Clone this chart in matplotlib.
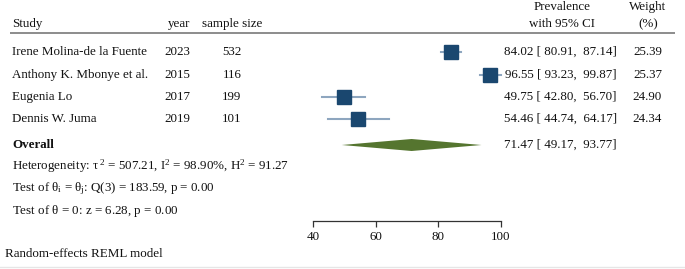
import matplotlib
matplotlib.use("Agg")
import matplotlib.pyplot as plt
import numpy as np

plt.rcParams['font.family'] = ['Liberation Serif', 'DejaVu Serif']
plt.rcParams['mathtext.fontset'] = 'custom'
plt.rcParams['mathtext.rm'] = 'Liberation Serif'
plt.rcParams['mathtext.it'] = 'Liberation Serif'
plt.rcParams['mathtext.bf'] = 'Liberation Serif:bold'

studies = ["Irene Molina-de la Fuente", "Anthony K. Mbonye et al.", "Eugenia Lo", "Dennis W. Juma"]
years = [2023, 2015, 2017, 2019]
sample_sizes = [532, 116, 199, 101]
prevalence = [84.02, 96.55, 49.75, 54.46]
ci_low = [80.91, 93.23, 42.80, 44.74]
ci_high = [87.14, 99.87, 56.70, 64.17]
weights = [25.39, 25.37, 24.90, 24.34]
overall = 71.47
overall_low = 49.17
overall_high = 93.77
x_ticks = [40, 60, 80, 100]

W, H = 685, 269
FS = 9.35
TXT = '#111111'
fig = plt.figure(figsize=(W / 100, H / 100), dpi=100)

# full-figure axes in pixel coordinates for text
ax = fig.add_axes([0, 0, 1, 1])
ax.set_xlim(0, W)
ax.set_ylim(H, 0)
ax.axis('off')

row_y = [52, 75, 97, 119]
ov_y = 145

ax.text(12, 24, "Study", fontsize=FS, va='center', ha='left', color=TXT)
ax.text(190, 24, "year", fontsize=FS, va='center', ha='right', color=TXT)
ax.text(232, 24, "sample size", fontsize=FS, va='center', ha='center', color=TXT)
ax.text(562, 7, "Prevalence", fontsize=FS, va='center', ha='center', color=TXT)
ax.text(562, 24, "with 95% CI", fontsize=FS, va='center', ha='center', color=TXT)
ax.text(648, 7, "Weight", fontsize=FS, va='center', ha='center', color=TXT)
ax.text(648, 24, "(%)", fontsize=FS, va='center', ha='center', color=TXT)
ax.plot([10, 675], [33, 33], color='#8c8c8c', lw=1.4, solid_capstyle='butt')

for i, y in enumerate(row_y):
    ax.text(12, y, studies[i], fontsize=FS, va='center', ha='left', color=TXT)
    ax.text(190, y, str(years[i]), fontsize=FS, va='center', ha='right', color=TXT)
    ax.text(232, y, str(sample_sizes[i]), fontsize=FS, va='center', ha='center', color=TXT)
    ax.text(617, y, f"{prevalence[i]:.2f} [ {ci_low[i]:.2f},  {ci_high[i]:.2f}]",
            fontsize=FS, va='center', ha='right', color=TXT)
    ax.text(662, y, f"{weights[i]:.2f}", fontsize=FS, va='center', ha='right', color=TXT)

ax.text(12, ov_y, "Overall", fontsize=FS, va='center', ha='left', color=TXT, fontweight='bold')
ax.text(617, ov_y, f"{overall:.2f} [ {overall_low:.2f},  {overall_high:.2f}]",
        fontsize=FS, va='center', ha='right', color=TXT)
ax.text(12, 166, r"Heterogeneity: $\tau^{\,2}$ = 507.21, $\mathrm{I}^2$ = 98.90%, $\mathrm{H}^2$ = 91.27",
        fontsize=FS, va='center', ha='left', color=TXT)
ax.text(12, 189, r"Test of $\theta_i$ = $\theta_j$: Q(3) = 183.59, p = 0.00",
        fontsize=FS, va='center', ha='left', color=TXT)
ax.text(12, 211, r"Test of $\theta$ = 0: z = 6.28, p = 0.00",
        fontsize=FS, va='center', ha='left', color=TXT)
ax.text(5, 254, "Random-effects REML model", fontsize=FS, va='center', ha='left', color=TXT)
ax.plot([0, W], [267, 267], color='#e6e6e6', lw=1)

# forest axes
x0, x1, yb = 313, 501, 221
fax = fig.add_axes([x0 / W, (H - yb) / H, (x1 - x0) / W, yb / H])
fax.set_xlim(40, 100)
fax.set_ylim(yb, 0)
fax.patch.set_alpha(0)
for s in ['top', 'right', 'left']:
    fax.spines[s].set_visible(False)
fax.spines['bottom'].set_color('#333333')
fax.spines['bottom'].set_linewidth(0.9)
fax.set_yticks([])
fax.set_xticks(x_ticks)
fax.set_xticklabels([str(t) for t in x_ticks])
fax.tick_params(axis='x', direction='out', length=4, width=0.9, color='#333333',
                labelsize=FS, labelcolor=TXT, pad=3.5)

sq_size = [10.0 * np.sqrt(w / max(weights)) for w in weights]
for i, y in enumerate(row_y):
    fax.plot([ci_low[i], ci_high[i]], [y, y], color='#8ea6bf', lw=1.5, clip_on=False, zorder=2)
    fax.plot([prevalence[i]], [y], marker='s', ms=sq_size[i], color='#1a476f',
             mec='#1a476f', clip_on=False, zorder=3, linestyle='none')

dh = 6
fax.fill([overall_low, overall, overall_high, overall],
         [ov_y, ov_y - dh, ov_y, ov_y + dh], color='#55752f', clip_on=False, zorder=3, lw=0)

fig.savefig("out.png", dpi=100)
